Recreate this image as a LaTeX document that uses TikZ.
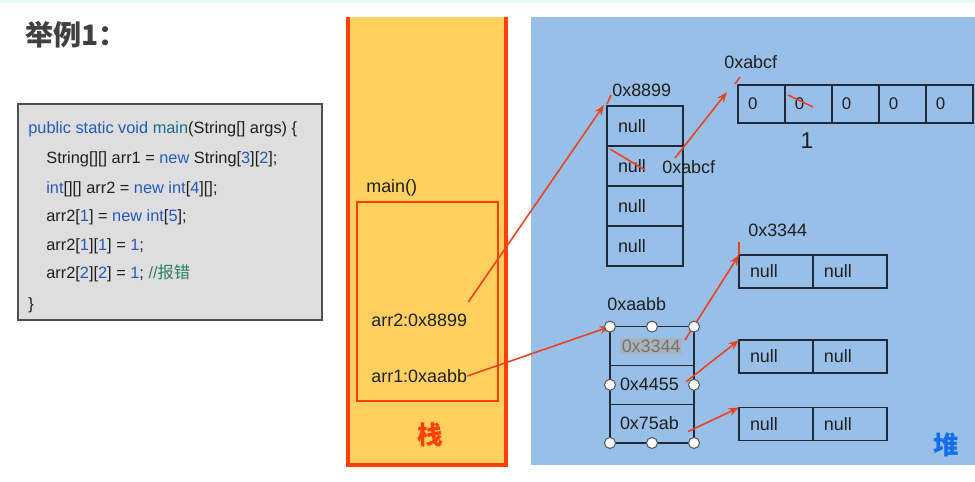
\documentclass[tikz,border=0pt]{standalone}
\usepackage{fontspec}
\setmainfont{Liberation Sans}
\newfontfamily\cjk{Noto Sans CJK SC}
\usetikzlibrary{positioning,arrows.meta}

\definecolor{stackfill}{RGB}{255,208,94}
\definecolor{stackred}{RGB}{255,62,10}
\definecolor{heapfill}{RGB}{152,191,232}
\definecolor{heapblue}{RGB}{20,110,235}
\definecolor{cellline}{RGB}{30,42,56}
\definecolor{ptrred}{RGB}{236,66,32}
\definecolor{codebg}{RGB}{222,222,222}
\definecolor{codeframe}{RGB}{80,80,80}
\definecolor{kwblue}{RGB}{38,88,190}
\definecolor{kwteal}{RGB}{30,105,140}
\definecolor{cmtgreen}{RGB}{40,130,95}
\definecolor{codetext}{RGB}{30,30,30}
\definecolor{selgray}{RGB}{170,178,188}

\newcommand{\kw}[1]{\textcolor{kwblue}{#1}}
\newcommand{\kwm}[1]{\textcolor{kwteal}{#1}}
\newcommand{\cmt}[1]{\textcolor{cmtgreen}{#1}}

\tikzstyle{codeline} = [anchor=base west, inner sep=0pt, text=codetext, font=\fontsize{9.3pt}{11pt}\selectfont]
\tikzstyle{lbl} = [anchor=west, inner sep=0pt, text=black!88, font=\fontsize{10.2pt}{12pt}\selectfont]
\tikzstyle{refcell} = [rectangle, draw=cellline, line width=0.75pt, outer sep=0pt, minimum height=0.8cm, inner xsep=0.22cm, text width=1.08cm, align=left, text=black!88, font=\fontsize{10.2pt}{12pt}\selectfont]
\tikzstyle{intcell} = [refcell, minimum height=0.76cm, inner xsep=0.2cm, text width=0.54cm, font=\fontsize{9.6pt}{12pt}\selectfont]
\tikzstyle{nullcell} = [refcell, minimum height=0.66cm, inner xsep=0.22cm, text width=1.04cm]
\tikzstyle{addrcell} = [refcell, minimum height=0.776cm, inner xsep=0.2cm, text width=1.28cm]

\begin{document}
\begin{tikzpicture}[x=0.02cm,y=-0.02cm,
  ptr/.style={draw=ptrred, line width=0.9pt, -{Stealth[length=6pt,width=4.5pt]}},
  redmark/.style={draw=ptrred, line width=0.9pt},
  handle/.style={circle, fill=white, draw=gray!70!black, line width=0.6pt, minimum size=0.22cm, inner sep=0pt}]
\useasboundingbox (0,0) rectangle (975,481);
\fill[cyan!8] (0,0) rectangle (975,3);

% title and code
\node[anchor=west, inner sep=0pt, text=black!75, font={\cjk\bfseries\fontsize{16pt}{18pt}\selectfont}] (title) at (25,35) {举例1：};
\draw[fill=codebg, draw=codeframe, line width=0.7pt] (18,104) rectangle (322,320);
\node[codeline] (code1) at (28,133) {\kw{public static void} \kwm{main}(String[] args) \{};
\node[codeline] (code2) at (46,163) {String[][] arr1 = \kw{new} String[\kw{3}][\kw{2}];};
\node[codeline] (code3) at (46,193) {\kw{int}[][] arr2 = \kw{new int}[\kw{4}][];};
\node[codeline] (code4) at (46,221) {arr2[\kw{1}] = \kw{new int}[\kw{5}];};
\node[codeline] (code5) at (46,250) {arr2[\kw{1}][\kw{1}] = \kw{1};};
\node[codeline] (code6) at (46,278) {arr2[\kw{2}][\kw{2}] = \kw{1}; \cmt{//{\cjk 报错}}};
\node[codeline] (code7) at (28,309) {\}};

% stack
\fill[stackfill] (348,17) rectangle (506,465);
\draw[stackred, line width=2pt] (348,17) -- (348,465) -- (506,465) -- (506,17);
\draw[stackred, line width=0.8pt] (357,202) rectangle (498,401);
\node[lbl] (mainlbl) at (366,188) {main()};
\node[lbl] (arr2) at (371,320) {arr2:0x8899};
\node[lbl] (arr1) at (371,376) {arr1:0xaabb};
\node[text=stackred, font={\cjk\bfseries\fontsize{14.5pt}{16pt}\selectfont}] (zhan) at (430,435) {栈};

% heap
\fill[heapfill] (531,17) rectangle (975,465);
\node[text=heapblue, font={\cjk\bfseries\fontsize{14.5pt}{16pt}\selectfont}] (dui) at (946,445) {堆};

\node[lbl] (l8899) at (612,90) {0x8899};
\node[refcell] (a1) at (645,126) {null};
\node[refcell] (a2) [below=0pt of a1] {null};
\node[refcell] (a3) [below=0pt of a2] {null};
\node[refcell] (a4) [below=0pt of a3] {null};
\node[lbl] (rabcf) at (662,167) {0xabcf};

\node[lbl] (labcf) at (724,62) {0xabcf};
\node[intcell] (c1) at (761.5,104) {0};
\node[intcell] (c2) [right=0pt of c1] {0};
\node[intcell] (c3) [right=0pt of c2] {0};
\node[intcell] (c4) [right=0pt of c3] {0};
\node[intcell] (c5) [right=0pt of c4] {0};
\node[font=\fontsize{13pt}{15pt}\selectfont, text=black!88] (one) at (807,141) {1};

\node[lbl] (l3344) at (748,230) {0x3344};
\node[nullcell] (d1) at (776,271.5) {null};
\node[nullcell] (d2) [right=0pt of d1] {null};
\node[nullcell] (e1) at (776,356.5) {null};
\node[nullcell] (e2) [right=0pt of e1] {null};
\node[nullcell] (f1) at (776,424) {null};
\node[nullcell] (f2) [right=0pt of f1] {null};

\node[lbl] (laabb) at (607,304) {0xaabb};
\node[addrcell] (b1) at (652,346) {{\setlength\fboxsep{1pt}\colorbox{selgray}{\textcolor{black!55}{0x3344}}}};
\node[addrcell] (b2) [below=0pt of b1] {0x4455};
\node[addrcell] (b3) [below=0pt of b2] {0x75ab};

% crossed values and stray marks
\draw[redmark] (610,149) -- (645,170);
\draw[redmark] (788,95) -- (813,107);
\draw[redmark] (607,104) -- (611,95);
\draw[redmark] (735,84) -- (740,77);
\draw[redmark] (739,242) -- (739,255);

% references
\draw[ptr] ([shift={(1,-18)}]arr2.east) -- ([shift={(-3,-1)}]a1.north west);
\draw[ptr] ([shift={(13,-9)}]rabcf.west) -- ([shift={(-11,7)}]c1.north west);
\draw[ptr] (arr1.east) -- (b1.north west);
\draw[ptr] ([shift={(-9,-6)}]b1.east) -- (d1.north west);
\draw[ptr] ([shift={(-8,-3)}]b2.east) -- (e1.north west);
\draw[ptr] ([shift={(-6,8)}]b3.east) -- (f1.north west);

\foreach \h in {b1.north west, b1.north, b1.north east, b2.west, b2.east, b3.south west, b3.south, b3.south east}
  \node[handle] at (\h) {};

\end{tikzpicture}
\end{document}
